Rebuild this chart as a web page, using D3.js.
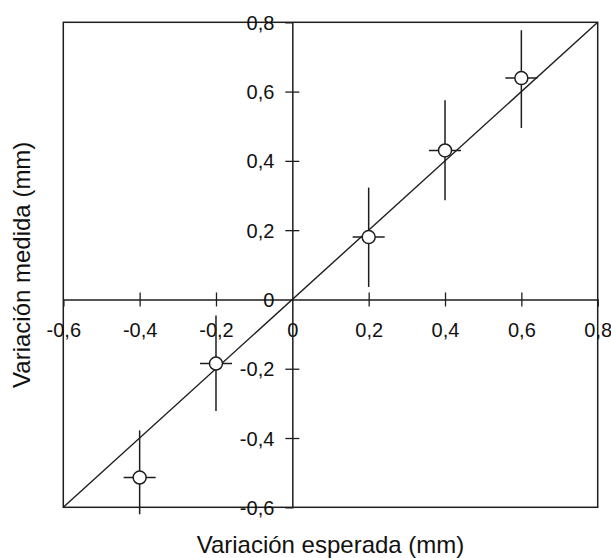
<!DOCTYPE html>
<html>
<head>
<meta charset="utf-8">
<script src="https://cdn.jsdelivr.net/npm/d3@7"></script>
<style>
  html, body { margin: 0; padding: 0; background: #fff; }
  svg { display: block; font-family: "Liberation Sans", Arial, sans-serif; }
</style>
</head>
<body>
<svg id="chart" width="611" height="558"></svg>
<script>
// Expected vs measured displacement (mm), with error bars
const expected = [-0.4, -0.2, 0.2, 0.4, 0.6];
const measured = [-0.514, -0.185, 0.180, 0.430, 0.639];
const measuredHigh = [-0.378, -0.046, 0.323, 0.575, 0.777];
const measuredLow = [-0.620, -0.322, 0.036, 0.286, 0.495];
const expectedErr = [0.042, 0.042, 0.042, 0.042, 0.042];

const xTicks = [-0.6, -0.4, -0.2, 0, 0.2, 0.4, 0.6, 0.8];
const yTicks = [-0.6, -0.4, -0.2, 0, 0.2, 0.4, 0.6, 0.8];
const xTitle = "Variación esperada (mm)";
const yTitle = "Variación medida (mm)";

const svg = d3.select("#chart");
const ink = "#1e1e1e";

const box = { left: 63.3, right: 597.7, top: 22.3, bottom: 507.3 };
const x = d3.scaleLinear().domain([-0.6, 0.8]).range([box.left, box.right]);
const y = d3.scaleLinear().domain([-0.6, 0.8]).range([box.bottom, box.top]);

const loc = d3.formatLocale({ decimal: ",", thousands: ".", grouping: [3], currency: ["", ""], minus: "-" });
const f1 = loc.format(".1f");
const fmt = d => (d === 0 ? "0" : f1(d));

// Frame
svg.append("rect")
  .attr("x", box.left).attr("y", box.top)
  .attr("width", box.right - box.left).attr("height", box.bottom - box.top)
  .attr("fill", "none").attr("stroke", ink).attr("stroke-width", 1.5);

// Horizontal axis through y = 0, ticks crossing the line
const xAxis = svg.append("g")
  .attr("transform", `translate(0,${y(0)})`)
  .call(d3.axisBottom(x).tickValues(xTicks).tickSizeOuter(0).tickSize(7).tickFormat(fmt));
xAxis.select(".domain").attr("stroke", ink).attr("stroke-width", 1.5);
xAxis.selectAll(".tick line").attr("y1", -7).attr("y2", 7).attr("stroke", ink).attr("stroke-width", 1.3);
xAxis.selectAll(".tick text")
  .attr("y", 38).attr("dy", 0)
  .attr("font-size", 20).attr("fill", "#111").attr("font-family", "Liberation Sans, Arial, sans-serif");

// Vertical axis through x = 0
const yAxis = svg.append("g")
  .attr("transform", `translate(${x(0)},0)`)
  .call(d3.axisLeft(y).tickValues(yTicks).tickSizeOuter(0).tickSize(7).tickFormat(fmt));
yAxis.select(".domain").attr("stroke", ink).attr("stroke-width", 1.5);
yAxis.selectAll(".tick line").attr("x1", -7).attr("x2", 7).attr("stroke", ink).attr("stroke-width", 1.3);
yAxis.selectAll(".tick text")
  .attr("x", -18).attr("dy", "0.35em")
  .attr("font-size", 20).attr("fill", "#111").attr("font-family", "Liberation Sans, Arial, sans-serif");
// Hide tick marks that would sit on the frame or on the other axis
xAxis.selectAll(".tick").filter(d => d === 0 || d === -0.6 || d === 0.8).select("line").remove();
yAxis.selectAll(".tick").filter(d => d === 0 || d === -0.6 || d === 0.8).select("line").remove();

// Identity line y = x
svg.append("line")
  .attr("x1", x(-0.6)).attr("y1", y(-0.6))
  .attr("x2", x(0.8)).attr("y2", y(0.8))
  .attr("stroke", ink).attr("stroke-width", 1.4);

const pts = expected.map((e, i) => ({
  x: e, y: measured[i], hi: measuredHigh[i], lo: measuredLow[i], ex: expectedErr[i]
}));

const marks = svg.append("g");
// Vertical error bars
marks.selectAll("line.v").data(pts).join("line").attr("class", "v")
  .attr("x1", d => x(d.x)).attr("x2", d => x(d.x))
  .attr("y1", d => y(d.hi)).attr("y2", d => y(d.lo))
  .attr("stroke", ink).attr("stroke-width", 1.5);
// Horizontal error bars
marks.selectAll("line.h").data(pts).join("line").attr("class", "h")
  .attr("x1", d => x(d.x - d.ex)).attr("x2", d => x(d.x + d.ex))
  .attr("y1", d => y(d.y)).attr("y2", d => y(d.y))
  .attr("stroke", ink).attr("stroke-width", 1.5);
// Open circles
marks.selectAll("circle").data(pts).join("circle")
  .attr("cx", d => x(d.x)).attr("cy", d => y(d.y)).attr("r", 6.5)
  .attr("fill", "#fff").attr("stroke", ink).attr("stroke-width", 1.5);

// Axis titles
svg.append("text")
  .attr("x", (box.left + box.right) / 2).attr("y", 553)
  .attr("text-anchor", "middle").attr("font-size", 24).attr("fill", "#111")
  .text(xTitle);
svg.append("text")
  .attr("transform", `translate(30,${(box.top + box.bottom) / 2}) rotate(-90)`)
  .attr("text-anchor", "middle").attr("font-size", 24).attr("fill", "#111")
  .text(yTitle);
</script>
</body>
</html>
